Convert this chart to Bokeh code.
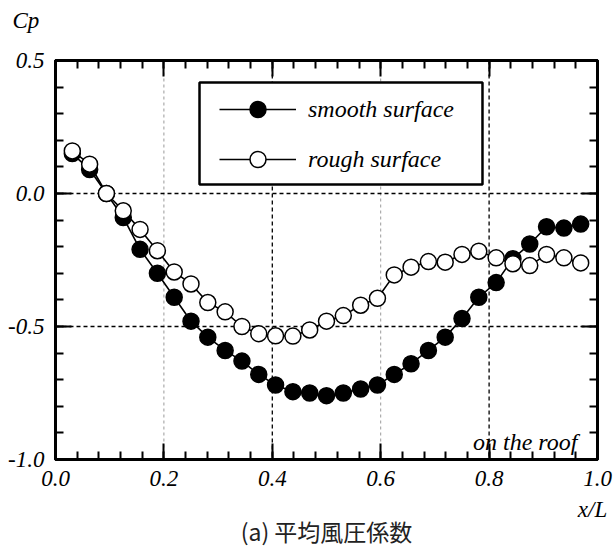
from bokeh.plotting import figure
from bokeh.models import (LinearAxis, FixedTicker, PrintfTickFormatter, Span, BoxAnnotation,
                          Label, Legend, LegendItem, Range1d, Title)
from bokeh.embed import file_html
from bokeh.resources import INLINE

# ---- data ----
x_pos = [0.031, 0.063, 0.094, 0.125, 0.156, 0.188, 0.219, 0.25, 0.281, 0.313, 0.344,
         0.375, 0.406, 0.438, 0.469, 0.5, 0.531, 0.563, 0.594, 0.625, 0.656, 0.688,
         0.719, 0.75, 0.781, 0.813, 0.844, 0.875, 0.906, 0.938, 0.969]
smooth = [0.15, 0.09, 0.00, -0.09, -0.21, -0.30, -0.39, -0.48, -0.54, -0.59, -0.63,
          -0.68, -0.72, -0.745, -0.75, -0.76, -0.75, -0.735, -0.72, -0.68, -0.64, -0.59,
          -0.54, -0.47, -0.39, -0.335, -0.245, -0.19, -0.125, -0.13, -0.115]
rough = [0.16, 0.11, 0.00, -0.065, -0.135, -0.215, -0.295, -0.34, -0.41, -0.445, -0.50,
         -0.527, -0.535, -0.536, -0.513, -0.48, -0.459, -0.42, -0.394, -0.306, -0.277, -0.256,
         -0.258, -0.229, -0.217, -0.242, -0.264, -0.271, -0.229, -0.242, -0.261]
x_ticks = [0.0, 0.2, 0.4, 0.6, 0.8, 1.0]
y_ticks = [-1.0, -0.5, 0.0, 0.5]
x_minor = [round(0.04 * i, 2) for i in range(26)]
y_minor = [round(-1.0 + 0.1 * i, 1) for i in range(16)]
grid_black_x = [0.4, 0.8]
grid_gray_x = [0.2, 0.6]
grid_black_y = [0.0, -0.5]
x_title_pos = 0.9908
x_title = "x/L"
y_title = "Cp"
caption = "(a) 平均風圧係数"
note = "on the roof"
series_names = ["smooth surface", "rough surface"]

SERIF = "Liberation Serif"

p = figure(width=616, height=546, x_range=Range1d(0, 1), y_range=Range1d(-1, 0.5),
           output_backend="svg", toolbar_location=None,
           min_border_left=55, min_border_right=19, min_border_top=60, min_border_bottom=87)
p.xgrid.visible = False
p.ygrid.visible = False
p.background_fill_color = "white"
p.border_fill_color = "white"
p.outline_line_color = "black"
p.outline_line_width = 3


def style(ax, show):
    ax.axis_line_width = 3
    ax.axis_line_color = "black"
    ax.major_tick_in = 16
    ax.major_tick_out = 0
    ax.minor_tick_in = 8
    ax.minor_tick_out = 0
    ax.major_tick_line_width = 2
    ax.minor_tick_line_width = 2
    ax.major_tick_line_color = "black"
    ax.minor_tick_line_color = "black"
    ax.formatter = PrintfTickFormatter(format="%.1f")
    if show:
        ax.major_label_text_font = SERIF
        ax.major_label_text_font_style = "italic"
        ax.major_label_text_font_size = "23px"
        ax.major_label_text_color = "black"
        ax.major_label_standoff = 11
    else:
        ax.major_label_text_font_size = "0px"
        ax.major_label_standoff = 0


xt = FixedTicker(ticks=x_ticks, minor_ticks=x_minor)
yt = FixedTicker(ticks=y_ticks, minor_ticks=y_minor)
p.xaxis.ticker = xt
p.yaxis.ticker = yt
for ax in p.xaxis:
    style(ax, True)
for ax in p.yaxis:
    style(ax, True)
top = LinearAxis(ticker=xt)
style(top, False)
p.add_layout(top, "above")
right = LinearAxis(ticker=yt)
style(right, False)
p.add_layout(right, "right")

# second bottom axis carrying "x/L"
xl_axis = LinearAxis(ticker=FixedTicker(ticks=[x_title_pos], minor_ticks=[]),
                     major_label_overrides={x_title_pos: x_title},
                     axis_line_alpha=0, major_tick_line_alpha=0, minor_tick_line_alpha=0,
                     major_tick_in=0, major_tick_out=0, minor_tick_in=0, minor_tick_out=0,
                     major_label_standoff=8,
                     major_label_text_font=SERIF, major_label_text_font_style="italic",
                     major_label_text_font_size="23px", major_label_text_color="black")
p.add_layout(xl_axis, "below")

# caption
p.add_layout(Title(text=caption, align="center", standoff=-26,
                   text_font="Noto Sans CJK JP", text_font_style="normal",
                   text_font_size="23px", text_color="#222222"), "below")

# "Cp" above the left axis
p.add_layout(Title(text=" ", text_font_size="1px", standoff=25), "above")
p.add_layout(Title(text=y_title, align="left", offset=-43, standoff=0,
                   text_font=SERIF, text_font_style="italic", text_font_size="23px",
                   text_color="black"), "above")

# grid lines
for g in grid_gray_x:
    p.add_layout(Span(location=g, dimension="height", line_color="#9a9a9a",
                      line_dash="3 3", line_width=1, level="underlay"))
for g in grid_black_x:
    p.add_layout(Span(location=g, dimension="height", line_color="black",
                      line_dash="4 3", line_width=1.3, level="underlay"))
for g in grid_black_y:
    p.add_layout(Span(location=g, dimension="width", line_color="black",
                      line_dash="4 3", line_width=1.3, level="underlay"))

# series
l1 = p.line(x_pos, smooth, line_color="black", line_width=1.6)
s1 = p.scatter(x_pos, smooth, marker="circle", size=16, fill_color="black",
               line_color="black", line_width=1.5)
l2 = p.line(x_pos, rough, line_color="black", line_width=1.6)
s2 = p.scatter(x_pos, rough, marker="circle", size=16, fill_color="white",
               line_color="black", line_width=1.5)

# legend frame
p.add_layout(BoxAnnotation(left=0.2657, right=0.7878, top=0.4173, bottom=0.0338,
                           fill_color="white", fill_alpha=1.0,
                           line_color="black", line_alpha=1.0, line_width=2.5))
legend = Legend(items=[LegendItem(label=series_names[0], renderers=[l1, s1]),
                       LegendItem(label=series_names[1], renderers=[l2, s2])],
                location=(144, 260), padding=20, margin=0, glyph_width=77, glyph_height=40,
                spacing=10, label_standoff=12, border_line_alpha=0, background_fill_alpha=0,
                label_text_font=SERIF, label_text_font_style="italic",
                label_text_font_size="24px", label_text_color="black")
p.add_layout(legend)

p.add_layout(Label(x=0.963, y=-0.936, text=note, text_font=SERIF,
                   text_font_style="italic", text_font_size="24px",
                   text_baseline="alphabetic", text_align="right", text_color="black"))

open("out.html", "w").write(file_html(p, INLINE))
